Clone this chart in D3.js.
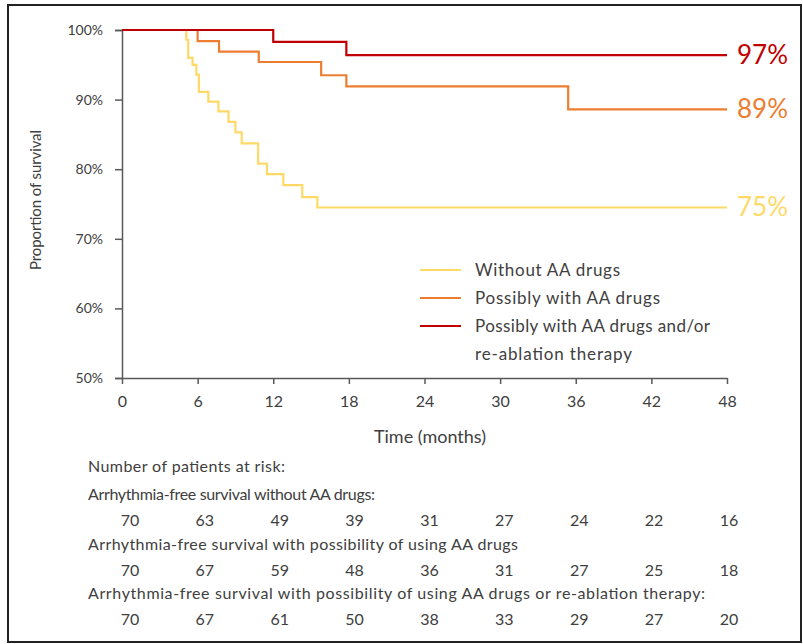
<!DOCTYPE html>
<html>
<head>
<meta charset="utf-8">
<script src="https://cdn.jsdelivr.net/npm/d3@7"></script>
<style>
  body { margin: 0; background: #fff; }
  svg text { font-family: Lato, "Open Sans", sans-serif; fill: #404040; }
</style>
</head>
<body>
<div id="chart"></div>
<script>
// months shown on the x axis and for the at-risk table
var monthTicks = [0, 6, 12, 18, 24, 30, 36, 42, 48];
var percentTicks = [50, 60, 70, 80, 90, 100];

// Kaplan-Meier steps (time in months, survival in %)
var timeWithout = [0, 5.1, 5.25, 5.6, 5.9, 6.1, 6.85, 7.65, 8.45, 9.0, 9.5, 10.8, 11.5, 12.8, 14.3, 15.5, 48];
var survWithout = [100, 98.6, 96.0, 95.0, 93.6, 91.1, 89.7, 88.3, 86.8, 85.3, 83.7, 80.8, 79.3, 77.7, 76.0, 74.5, 74.5];
var timeAA = [0, 6.0, 7.7, 10.85, 15.8, 17.8, 35.4, 48];
var survAA = [100, 98.4, 96.9, 95.4, 93.5, 91.9, 88.6, 88.6];
var timeAblation = [0, 12.0, 17.8, 48];
var survAblation = [100, 98.3, 96.4, 96.4];

var seriesNames = ["Without AA drugs", "Possibly with AA drugs", "Possibly with AA  drugs and/or", "re-ablation therapy"];
var endLabels = ["75%", "89%", "97%"];

// patients at risk
var riskHeader = "Number  of patients at risk:";
var riskLabels = [
  "Arrhythmia-free survival without AA drugs:",
  "Arrhythmia-free survival with possibility of using AA drugs",
  "Arrhythmia-free survival with possibility of using AA drugs or re-ablation therapy:"
];
var riskWithout = [70, 63, 49, 39, 31, 27, 24, 22, 16];
var riskAA = [70, 67, 59, 48, 36, 31, 27, 25, 18];
var riskAblation = [70, 67, 61, 50, 38, 33, 29, 27, 20];

var colors = ["#FFD966", "#ED7D31", "#C00000"];

var width = 803, height = 644;
var svg = d3.select("#chart").append("svg")
  .attr("width", width)
  .attr("height", height);

// outer frame
svg.append("rect")
  .attr("x", 8).attr("y", 5)
  .attr("width", 793).attr("height", 637)
  .attr("fill", "none")
  .attr("stroke", "#222")
  .attr("stroke-width", 2);

var x = d3.scaleLinear().domain([0, 48]).range([122, 727]);
var y = d3.scaleLinear().domain([50, 100]).range([378, 30]);

//Y axis
var yAxis = svg.append("g")
  .attr("transform", "translate(" + x(0) + ",0)")
  .call(d3.axisLeft(y).tickValues(percentTicks).tickSize(7).tickPadding(12).tickFormat(function(d) { return d + "%"; }));
yAxis.select(".domain").attr("stroke", "#595959").attr("stroke-width", 1.5);
yAxis.selectAll(".tick line").attr("stroke", "#595959").attr("stroke-width", 1.5);
yAxis.selectAll("text").style("font-size", "14px").attr("fill", "#404040");

//X axis
var xAxis = svg.append("g")
  .attr("transform", "translate(0," + y(50) + ")")
  .call(d3.axisBottom(x).tickValues(monthTicks).tickSize(6).tickSizeOuter(0).tickPadding(12));
xAxis.select(".domain").attr("stroke", "#595959").attr("stroke-width", 1.5);
xAxis.selectAll(".tick line").attr("stroke", "#595959").attr("stroke-width", 1.5);
xAxis.selectAll("text").style("font-size", "16px").attr("fill", "#404040");

svg.append("text")
  .attr("x", 430).attr("y", 443)
  .attr("text-anchor", "middle")
  .style("font-size", "18px")
  .text("Time (months)");

svg.append("text")
  .attr("transform", "translate(41,200) rotate(-90)")
  .attr("text-anchor", "middle")
  .attr("textLength", 140)
  .style("font-size", "15px")
  .text("Proportion  of  survival");

// survival curves
var series = [
  { t: timeWithout, s: survWithout },
  { t: timeAA, s: survAA },
  { t: timeAblation, s: survAblation }
];
var line = d3.line()
  .x(function(d) { return x(d[0]); })
  .y(function(d) { return y(d[1]); })
  .curve(d3.curveStepAfter);

// yellow first so the red ends up on top
series.forEach(function(sr, i) {
  var pts = sr.t.map(function(t, j) { return [t, sr.s[j]]; });
  svg.append("path")
    .attr("d", line(pts))
    .attr("fill", "none")
    .attr("stroke", colors[i])
    .attr("stroke-width", 2.2);
  svg.append("text")
    .attr("x", x(48) + 10)
    .attr("y", y(sr.s[sr.s.length - 1]) + 9)
    .style("font-size", "26px")
    .style("fill", colors[i])
    .text(endLabels[i]);
});

// legend, last entry is the wrapped second line of the red one
var legendWidths = [145, 185, 235, 157];
var legend = svg.append("g").attr("transform", "translate(420,270)");
seriesNames.forEach(function(name, i) {
  if (i < colors.length) {
    legend.append("line")
      .attr("x1", 0).attr("x2", 41)
      .attr("y1", i * 28).attr("y2", i * 28)
      .attr("stroke", colors[i])
      .attr("stroke-width", 2);
  }
  legend.append("text")
    .attr("x", 55).attr("y", i * 28 + 6)
    .attr("textLength", legendWidths[i])
    .style("font-size", "17px")
    .text(name);
});

// patients at risk table
var col = d3.scalePoint().domain(monthTicks).range([130, 729]);
var table = svg.append("g");
table.append("text")
  .attr("x", 88).attr("y", 472)
  .attr("textLength", 197)
  .style("font-size", "16px")
  .text(riskHeader);

var labelWidths = [287, 430, 617];
var riskRows = [riskWithout, riskAA, riskAblation];
riskRows.forEach(function(row, i) {
  var top = 500 + i * 49.5;
  table.append("text")
    .attr("x", 88).attr("y", top)
    .attr("textLength", labelWidths[i])
    .style("font-size", "16px")
    .text(riskLabels[i]);
  table.selectAll(".risk" + i)
    .data(row)
    .enter().append("text")
    .attr("class", "risk" + i)
    .attr("x", function(d, j) { return col(monthTicks[j]); })
    .attr("y", top + 26)
    .attr("text-anchor", "middle")
    .style("font-size", "16px")
    .text(function(d) { return d; });
});
</script>
</body>
</html>
